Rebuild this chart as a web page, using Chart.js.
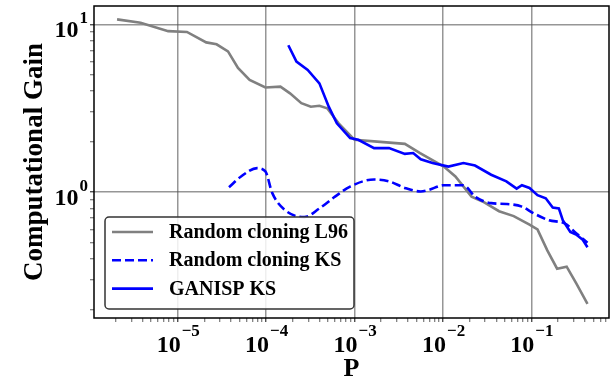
<!DOCTYPE html>
<html>
<head>
<meta charset="utf-8">
<script src="https://cdn.jsdelivr.net/npm/chart.js@4"></script>
<style>
  body { margin: 0; background: #fff; }
</style>
</head>
<body>
<canvas id="gainChart" width="611" height="380"></canvas>
<script>
// Random cloning L96 (grey solid)
const l96P = [2.06e-6, 3.8e-6, 7.8e-6, 1.27e-5, 2.1e-5, 2.75e-5, 3.7e-5, 4.8e-5, 6.5e-5, 9.8e-5,
  1.45e-4, 1.86e-4, 2.5e-4, 3.2e-4, 4.0e-4, 4.9e-4, 6.6e-4, 1.0e-3, 1.8e-3, 3.7e-3,
  5.5e-3, 1.02e-2, 1.38e-2, 2.1e-2, 2.8e-2, 4.3e-2, 6.3e-2, 9.5e-2, 0.117, 0.151,
  0.195, 0.25, 0.32, 0.43];
const l96Gain = [10.7, 10.2, 9.1, 9.0, 7.8, 7.6, 6.9, 5.5, 4.66, 4.2,
  4.25, 3.88, 3.39, 3.23, 3.27, 3.16, 2.57, 2.05, 2.0, 1.94,
  1.71, 1.42, 1.24, 0.94, 0.88, 0.77, 0.72, 0.64, 0.60, 0.45,
  0.35, 0.36, 0.287, 0.216];

// Random cloning KS (blue dashed)
const ksRandP = [3.8e-5, 5.2e-5, 7.9e-5, 9.8e-5, 1.17e-4, 1.62e-4, 2.7e-4, 4.0e-4, 6.0e-4, 8.9e-4,
  1.66e-3, 2.45e-3, 3.7e-3, 5.6e-3, 6.8e-3, 1.02e-2, 1.7e-2, 2.3e-2, 3.5e-2, 5.2e-2,
  7.8e-2, 0.105, 0.158, 0.24, 0.32, 0.43];
const ksRandGain = [1.07, 1.24, 1.39, 1.33, 0.99, 0.785, 0.71, 0.80, 0.94, 1.08,
  1.19, 1.16, 1.06, 1.01, 1.03, 1.10, 1.10, 0.94, 0.86, 0.85,
  0.82, 0.75, 0.68, 0.65, 0.57, 0.50];

// GANISP KS (blue solid)
const ganispP = [1.78e-4, 2.2e-4, 2.95e-4, 4.0e-4, 5.1e-4, 6.3e-4, 8.9e-4, 1.1e-3, 1.66e-3, 2.45e-3,
  3.7e-3, 4.6e-3, 5.6e-3, 7.6e-3, 1.15e-2, 1.7e-2, 2.3e-2, 3.5e-2, 5.2e-2, 6.8e-2,
  7.8e-2, 9.5e-2, 0.117, 0.145, 0.174, 0.204, 0.226, 0.275, 0.32, 0.38, 0.43];
const ganispGain = [7.5, 6.0, 5.35, 4.45, 3.23, 2.57, 2.10, 2.05, 1.83, 1.83,
  1.69, 1.71, 1.57, 1.49, 1.42, 1.49, 1.44, 1.27, 1.16, 1.05,
  1.10, 1.06, 0.96, 0.92, 0.81, 0.80, 0.68, 0.58, 0.56, 0.52, 0.47];

const xDecades = [-5, -4, -3, -2, -1];
const yDecades = [0, 1];
const legendLabels = ["Random cloning L96", "Random cloning KS", "GANISP KS"];

const serif = "'Liberation Serif', 'Times New Roman', serif";

function toPoints(xs, ys) {
  return xs.map((x, i) => ({ x: x, y: ys[i] }));
}

// all 1..9 x 10^n values inside [min, max]
function logTicks(min, max) {
  const out = [];
  for (let e = Math.floor(Math.log10(min)); e <= Math.ceil(Math.log10(max)); e++) {
    for (let m = 1; m < 10; m++) {
      const v = m * Math.pow(10, e);
      if (v >= min && v <= max) out.push({ value: v, major: m === 1 });
    }
  }
  return out;
}

function drawPower(ctx, exp, x, y, align) {
  const base = "10";
  const sup = exp < 0 ? "\u2212" + Math.abs(exp) : String(exp);
  ctx.font = "bold 24px " + serif;
  const wb = ctx.measureText(base).width;
  ctx.font = "bold 17px " + serif;
  const we = ctx.measureText(sup).width;
  let left = align === "center" ? x - (wb + we) / 2 : x - wb - we;
  ctx.textBaseline = "alphabetic";
  ctx.textAlign = "left";
  ctx.fillStyle = "#000";
  ctx.font = "bold 24px " + serif;
  ctx.fillText(base, left, y.base);
  ctx.font = "bold 17px " + serif;
  ctx.fillText(sup, left + wb + 1, y.sup);
}

const decorations = {
  id: "decorations",
  afterDraw(chart) {
    const ctx = chart.ctx;
    const area = chart.chartArea;
    const xs = chart.scales.x;
    const ys = chart.scales.y;
    ctx.save();

    // frame
    ctx.strokeStyle = "#000";
    ctx.lineWidth = 1.5;
    ctx.strokeRect(area.left, area.top, area.right - area.left, area.bottom - area.top);

    // tick labels with superscripts
    xDecades.forEach((e) => {
      const px = xs.getPixelForValue(Math.pow(10, e));
      drawPower(ctx, e, px, { base: area.bottom + 34, sup: area.bottom + 18 }, "center");
    });
    yDecades.forEach((e) => {
      const py = ys.getPixelForValue(Math.pow(10, e));
      drawPower(ctx, e, area.left - 7, { base: py + 12.4, sup: py - 1 }, "right");
    });

    // legend box
    const bx = 105, by = 217, bw = 249, bh = 92;
    ctx.beginPath();
    ctx.roundRect(bx, by, bw, bh, 4);
    ctx.fillStyle = "rgba(255,255,255,0.85)";
    ctx.fill();
    ctx.strokeStyle = "#333";
    ctx.lineWidth = 1.5;
    ctx.stroke();

    const order = [0, 1, 2];
    order.forEach((i, row) => {
      const ds = chart.data.datasets[i];
      const y = by + 15 + row * 28.3;
      ctx.beginPath();
      ctx.setLineDash(ds.borderDash || []);
      ctx.strokeStyle = ds.borderColor;
      ctx.lineWidth = ds.borderWidth;
      ctx.moveTo(bx + 7, y);
      ctx.lineTo(bx + 48, y);
      ctx.stroke();
      ctx.setLineDash([]);
      ctx.fillStyle = "#000";
      ctx.font = "bold 20px " + serif;
      ctx.textAlign = "left";
      ctx.textBaseline = "middle";
      ctx.fillText(ds.label, bx + 64, y + 1);
    });
    ctx.restore();
  },
};

const gridColor = (c) => (c.tick && c.tick.major ? "rgba(80,80,80,0.6)" : "rgba(0,0,0,0)");
const tickWidth = (c) => (c.tick && c.tick.major ? 1.2 : 0.8);

new Chart(document.getElementById("gainChart").getContext("2d"), {
  type: "line",
  data: {
    datasets: [
      {
        label: legendLabels[0],
        data: toPoints(l96P, l96Gain),
        borderColor: "#808080",
        borderWidth: 2.6,
        pointRadius: 0,
        tension: 0,
        order: 3,
      },
      {
        label: legendLabels[1],
        data: toPoints(ksRandP, ksRandGain),
        borderColor: "#0000ff",
        borderWidth: 2.6,
        borderDash: [9, 4],
        pointRadius: 0,
        cubicInterpolationMode: "monotone",
        order: 2,
      },
      {
        label: legendLabels[2],
        data: toPoints(ganispP, ganispGain),
        borderColor: "#0000ff",
        borderWidth: 2.6,
        pointRadius: 0,
        tension: 0,
        order: 1,
      },
    ],
  },
  options: {
    responsive: false,
    animation: false,
    layout: { padding: { top: 6, right: 2, left: 0, bottom: 0 } },
    plugins: { legend: { display: false }, tooltip: { enabled: false } },
    scales: {
      x: {
        type: "logarithmic",
        min: 1.13e-6,
        max: 0.753,
        afterBuildTicks: (s) => { s.ticks = logTicks(s.min, s.max); },
        afterFit: (s) => { s.height = 62; },
        ticks: { display: false },
        border: { display: false },
        grid: { color: gridColor, lineWidth: 1.5, tickLength: 4, tickColor: "#333", tickWidth: tickWidth },
        title: {
          display: true,
          text: "P",
          color: "#000",
          font: { family: serif, size: 26, weight: "bold", lineHeight: 0.8 },
          padding: 0,
        },
      },
      y: {
        type: "logarithmic",
        min: 0.178,
        max: 12.85,
        afterBuildTicks: (s) => { s.ticks = logTicks(s.min, s.max); },
        afterFit: (s) => { s.width = 94; },
        ticks: { display: false },
        border: { display: false },
        grid: { color: gridColor, lineWidth: 1.5, tickLength: 4, tickColor: "#333", tickWidth: tickWidth },
        title: {
          display: true,
          text: "Computational Gain",
          color: "#000",
          font: { family: serif, size: 27, weight: "bold" },
          padding: { top: 19, bottom: 0 },
        },
      },
    },
  },
  plugins: [decorations],
});
</script>
</body>
</html>
